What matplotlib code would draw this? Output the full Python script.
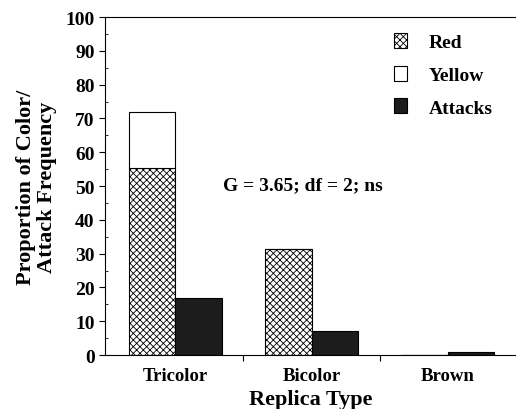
import numpy as np
import matplotlib
matplotlib.use('Agg')
import matplotlib.pyplot as plt
from matplotlib.patches import Patch
from matplotlib.ticker import MultipleLocator

plt.rcParams['font.family'] = 'Liberation Serif'
plt.rcParams['font.weight'] = 'bold'
plt.rcParams['axes.labelweight'] = 'bold'
plt.rcParams['hatch.color'] = '#555555'
plt.rcParams['hatch.linewidth'] = 0.6

replica_types = ['Tricolor', 'Bicolor', 'Brown']
red = np.array([55.3, 31.5, 0])
yellow = np.array([16.7, 0, 0])
attacks = np.array([17, 7, 1])

x = np.arange(len(replica_types))
w = 0.34

fig = plt.figure(figsize=(5.16, 4.1), dpi=100)
ax = fig.add_axes([0.2035, 0.1317, 0.7965, 0.8243])

ax.bar(x - w/2, red, w, color='white', edgecolor='black', hatch='xxxxx', linewidth=0.8)
ax.bar(x - w/2, yellow, w, bottom=red, color='white', edgecolor='black', linewidth=0.8)
ax.bar(x + w/2, attacks, w, color='#1c1c1c', edgecolor='black', linewidth=0.8)

ax.set_xlim(-0.515, 2.5)
ax.set_ylim(0, 100)
ax.yaxis.set_major_locator(MultipleLocator(10))
ax.yaxis.set_minor_locator(MultipleLocator(5))
ax.tick_params(axis='y', which='major', direction='out', length=4, labelsize=14)
ax.tick_params(axis='y', which='minor', direction='in', length=2)
ax.set_xticks([0.5, 1.5])
ax.set_xticklabels([])
ax.tick_params(axis='x', direction='out', length=4)
for i, name in enumerate(replica_types):
    ax.text(i, -6, name, ha='center', va='center', fontsize=13.5)

ax.spines['right'].set_visible(False)
ax.set_xlabel('Replica Type', fontsize=16, labelpad=17)
ax.set_ylabel('Proportion of Color/\nAttack Frequency', fontsize=16, labelpad=6, linespacing=1.1)

ax.text(0.35, 50.5, 'G = 3.65; df = 2; ns', fontsize=14, ha='left', va='center')

handles = [Patch(facecolor='white', edgecolor='black', hatch='xxxxx', linewidth=0.8, label='Red'),
           Patch(facecolor='white', edgecolor='black', linewidth=0.8, label='Yellow'),
           Patch(facecolor='#1c1c1c', edgecolor='black', linewidth=0.8, label='Attacks')]
ax.legend(handles=handles, loc='upper left', bbox_to_anchor=(0.66, 1.005), frameon=False,
          fontsize=14, handlelength=0.7, handleheight=0.8, handletextpad=1.1, labelspacing=0.75)

fig.savefig('out.png', dpi=100)
